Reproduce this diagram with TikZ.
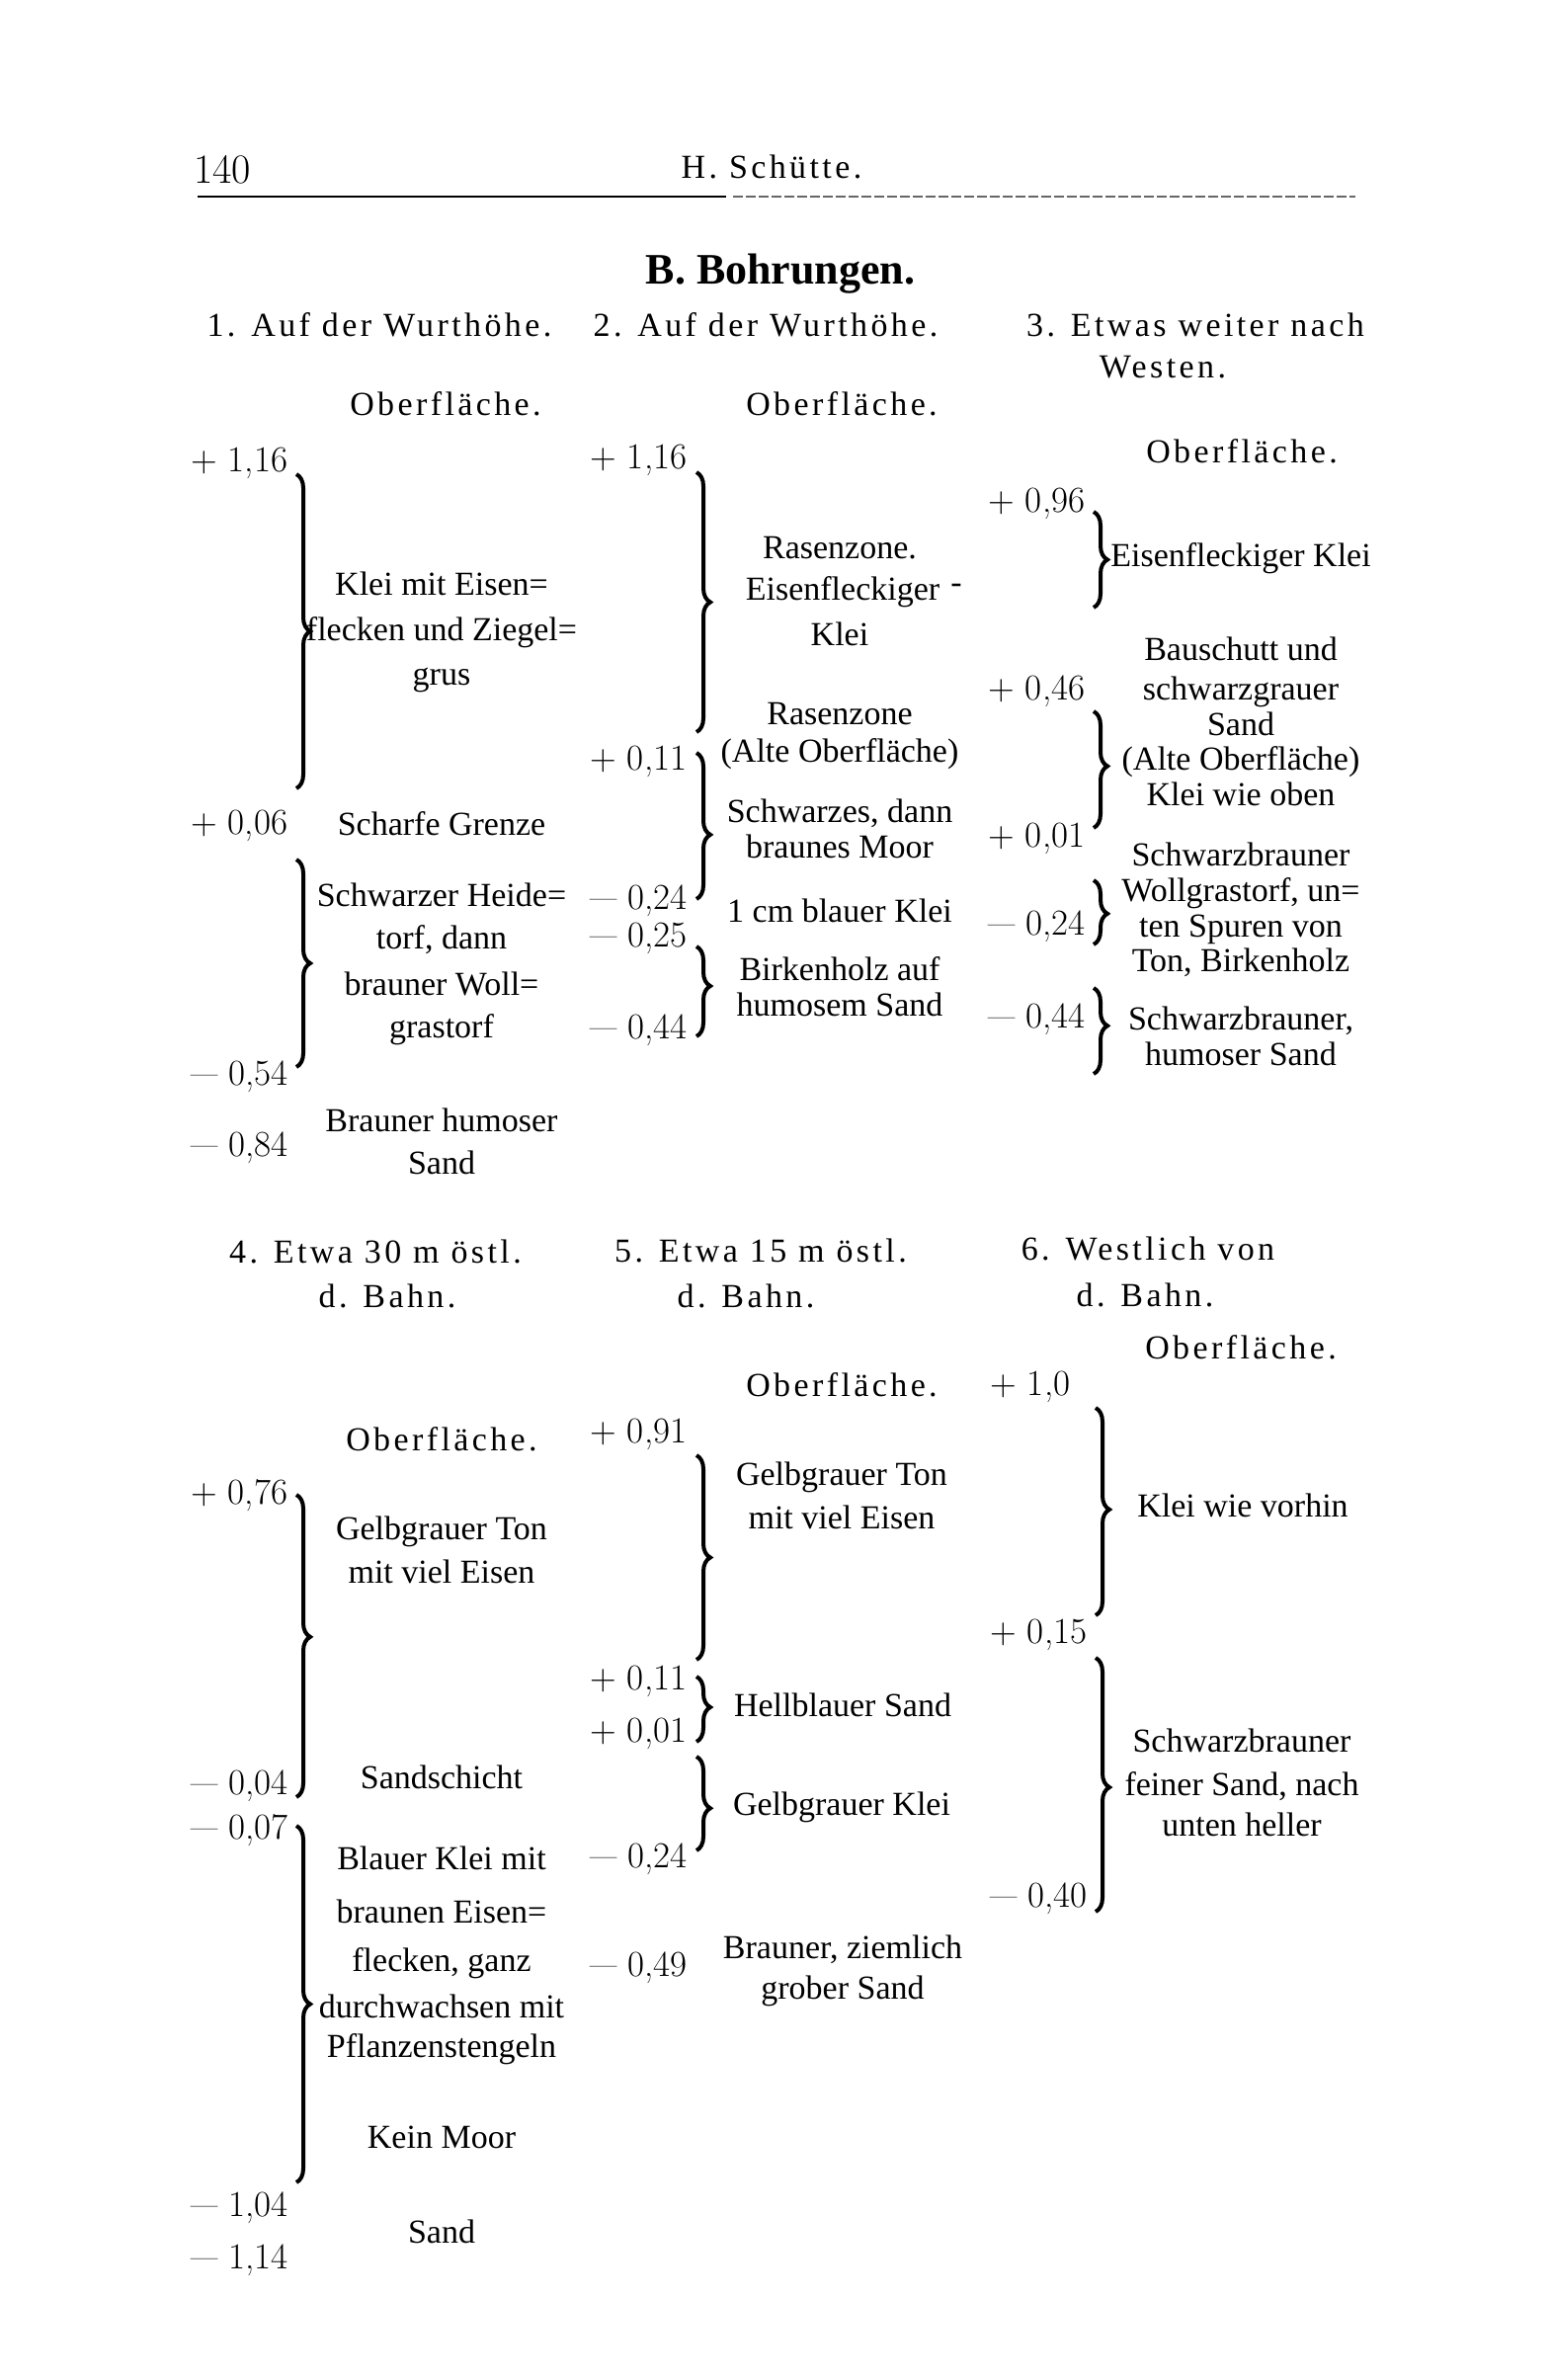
\documentclass[tikz,border=0pt]{standalone}
\usepackage{fontspec}
\usetikzlibrary{decorations.pathreplacing}
\newfontfamily\frak{Liberation Serif}
\newfontfamily\frakspaced[LetterSpace=10]{Liberation Serif}
\newcommand\mydash{\scalebox{0.8}[1]{—}}
\tikzset{
  num/.style={anchor=base west, inner sep=0pt, font=\fontsize{37}{40}\selectfont},
  txt/.style={anchor=base, inner sep=0pt, font=\frak\fontsize{34}{40}\selectfont},
  hdr/.style={anchor=base, inner sep=0pt, font=\frakspaced\fontsize{34}{40}\selectfont},
  brc/.style={decorate, decoration={brace, amplitude=14pt, aspect=#1}, line width=4pt},
  brc/.default=0.5
}
\begin{document}
\begin{tikzpicture}[x=1pt,y=-1pt]
\fill[white] (0,0) rectangle (1570,2409);
\useasboundingbox (0,0) rectangle (1570,2409);

% page head
\node[anchor=base west, inner sep=0pt, font=\fontsize{42}{46}\selectfont] (pg) at (196,185) {140};
\node[hdr] (auth) at (781,180) {H. Schütte.};
\draw[line width=1.5pt] (200,199) -- (735,199);
\draw[line width=1.2pt, black!60, dash pattern=on 10pt off 3pt] (742,199) -- (1372,199);
\node[anchor=base, inner sep=0pt, font=\frak\bfseries\fontsize{44}{48}\selectfont] (title) at (790,287) {B.\ Bohrungen.};

% column heads, upper
\node[hdr] (h1) at (384,340) {1. Auf der Wurthöhe.};
\node[hdr] (h2) at (775,340) {2. Auf der Wurthöhe.};
\node[hdr] (h3a) at (1210,340) {3. Etwas weiter nach};
\node[hdr] (h3b) at (1177,382) {Westen.};
\node[hdr] (o1) at (451,420) {Oberfläche.};
\node[hdr] (o2) at (852,420) {Oberfläche.};
\node[hdr] (o3) at (1257,468) {Oberfläche.};

% column 1
\node[num] (n1a) at (193,477) {+ 1,16};
\node[num] (n1b) at (193,844) {+ 0,06};
\node[num] (n1c) at (193,1098) {\mydash\ 0,54};
\node[num] (n1d) at (193,1170) {\mydash\ 0,84};
\draw[brc] (300,480) -- (300,798);
\draw[brc] (300,870) -- (300,1080);
\node[txt] (t1a) at (447,602) {Klei mit Eisen=};
\node[txt] (t1b) at (447,648) {flecken und Ziegel=};
\node[txt] (t1c) at (447,693) {grus};
\node[txt] (t1d) at (447,845) {Scharfe Grenze};
\node[txt] (t1e) at (447,917) {Schwarzer Heide=};
\node[txt] (t1f) at (447,960) {torf, dann};
\node[txt] (t1g) at (447,1007) {brauner Woll=};
\node[txt] (t1h) at (447,1050) {grastorf};
\node[txt] (t1i) at (447,1145) {Brauner humoser};
\node[txt] (t1j) at (447,1188) {Sand};

% column 2
\node[num] (n2a) at (597,474) {+ 1,16};
\node[num] (n2b) at (597,779) {+ 0,11};
\node[num] (n2c) at (597,920) {\mydash\ 0,24};
\node[num] (n2d) at (597,958) {\mydash\ 0,25};
\node[num] (n2e) at (597,1051) {\mydash\ 0,44};
\draw[brc] (705,478) -- (705,741);
\draw[brc=0.56] (705,762) -- (705,910);
\draw[brc=0.44] (705,958) -- (705,1049);
\node[txt] (t2a) at (850,565) {Rasenzone.};
\node[txt] (t2b) at (853,607) {Eisenfleckiger};
\node[txt] (t2bx) at (968,600) {-};
\node[txt] (t2c) at (850,653) {Klei};
\node[txt] (t2d) at (850,733) {Rasenzone};
\node[txt] (t2e) at (850,771) {(Alte Oberfläche)};
\node[txt] (t2f) at (850,832) {Schwarzes, dann};
\node[txt] (t2g) at (850,868) {braunes Moor};
\node[txt] (t2h) at (850,933) {1 cm blauer Klei};
\node[txt] (t2i) at (850,992) {Birkenholz auf};
\node[txt] (t2j) at (850,1028) {humosem Sand};

% column 3
\node[num] (n3a) at (1000,518) {+ 0,96};
\node[num] (n3b) at (1000,708) {+ 0,46};
\node[num] (n3c) at (1000,857) {+ 0,01};
\node[num] (n3d) at (1000,946) {\mydash\ 0,24};
\node[num] (n3e) at (1000,1040) {\mydash\ 0,44};
\draw[brc] (1107,518) -- (1107,615);
\draw[brc=0.47] (1107,720) -- (1107,838);
\draw[brc=0.52] (1107,891) -- (1107,956);
\draw[brc=0.44] (1107,1000) -- (1107,1087);
\node[txt] (t3a) at (1256,573) {Eisenfleckiger Klei};
\node[txt] (t3b) at (1256,668) {Bauschutt und};
\node[txt] (t3c) at (1256,708) {schwarzgrauer};
\node[txt] (t3d) at (1256,744) {Sand};
\node[txt] (t3e) at (1256,779) {(Alte Oberfläche)};
\node[txt] (t3f) at (1256,815) {Klei wie oben};
\node[txt] (t3g) at (1256,876) {Schwarzbrauner};
\node[txt] (t3h) at (1256,912) {Wollgrastorf, un=};
\node[txt] (t3i) at (1256,948) {ten Spuren von};
\node[txt] (t3j) at (1256,983) {Ton, Birkenholz};
\node[txt] (t3k) at (1256,1042) {Schwarzbrauner,};
\node[txt] (t3l) at (1256,1078) {humoser Sand};

% column heads, lower
\node[hdr] (h4a) at (380,1278) {4. Etwa 30 m östl.};
\node[hdr] (h4b) at (392,1323) {d. Bahn.};
\node[hdr] (h5a) at (770,1277) {5. Etwa 15 m östl.};
\node[hdr] (h5b) at (755,1323) {d. Bahn.};
\node[hdr] (h6a) at (1162,1275) {6. Westlich von};
\node[hdr] (h6b) at (1159,1322) {d. Bahn.};
\node[hdr] (o4) at (447,1468) {Oberfläche.};
\node[hdr] (o5) at (852,1413) {Oberfläche.};
\node[hdr] (o6) at (1256,1375) {Oberfläche.};

% column 4
\node[num] (n4a) at (193,1522) {+ 0,76};
\node[num] (n4b) at (193,1816) {\mydash\ 0,04};
\node[num] (n4c) at (193,1861) {\mydash\ 0,07};
\node[num] (n4d) at (193,2243) {\mydash\ 1,04};
\node[num] (n4e) at (193,2296) {\mydash\ 1,14};
\draw[brc=0.47] (300,1513) -- (300,1819);
\draw[brc] (300,1848) -- (300,2209);
\node[txt] (t4a) at (447,1558) {Gelbgrauer Ton};
\node[txt] (t4b) at (447,1602) {mit viel Eisen};
\node[txt] (t4c) at (447,1810) {Sandschicht};
\node[txt] (t4d) at (447,1892) {Blauer Klei mit};
\node[txt] (t4e) at (447,1946) {braunen Eisen=};
\node[txt] (t4f) at (447,1995) {flecken, ganz};
\node[txt] (t4g) at (447,2042) {durchwachsen mit};
\node[txt] (t4h) at (447,2082) {Pflanzenstengeln};
\node[txt] (t4i) at (447,2174) {Kein Moor};
\node[txt] (t4j) at (447,2270) {Sand};

% column 5
\node[num] (n5a) at (597,1460) {+ 0,91};
\node[num] (n5b) at (597,1710) {+ 0,11};
\node[num] (n5c) at (597,1763) {+ 0,01};
\node[num] (n5d) at (597,1890) {\mydash\ 0,24};
\node[num] (n5e) at (597,2000) {\mydash\ 0,49};
\draw[brc] (705,1473) -- (705,1680);
\draw[brc=0.47] (705,1697) -- (705,1763);
\draw[brc=0.55] (705,1778) -- (705,1873);
\node[txt] (t5a) at (852,1503) {Gelbgrauer Ton};
\node[txt] (t5b) at (852,1547) {mit viel Eisen};
\node[txt] (t5c) at (853,1737) {Hellblauer Sand};
\node[txt] (t5d) at (852,1837) {Gelbgrauer Klei};
\node[txt] (t5e) at (853,1982) {Brauner, ziemlich};
\node[txt] (t5f) at (853,2023) {grober Sand};

% column 6
\node[num] (n6a) at (1002,1412) {+ 1,0};
\node[num] (n6b) at (1002,1663) {+ 0,15};
\node[num] (n6c) at (1002,1930) {\mydash\ 0,40};
\draw[brc=0.49] (1109,1425) -- (1109,1635);
\draw[brc=0.51] (1109,1678) -- (1109,1935);
\node[txt] (t6a) at (1258,1535) {Klei wie vorhin};
\node[txt] (t6b) at (1257,1773) {Schwarzbrauner};
\node[txt] (t6c) at (1257,1817) {feiner Sand, nach};
\node[txt] (t6d) at (1257,1858) {unten heller};
\end{tikzpicture}
\end{document}
